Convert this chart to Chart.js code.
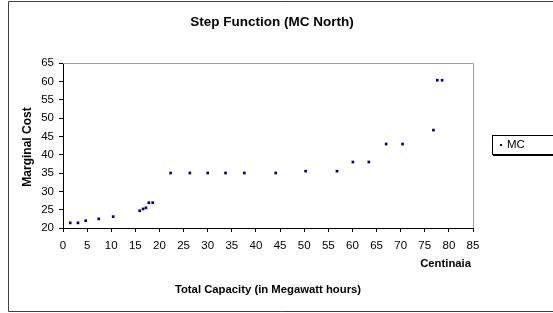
<!DOCTYPE html>
<html>
<head>
<meta charset="utf-8">
<script src="https://cdn.jsdelivr.net/npm/chart.js@4"></script>
<style>
  html, body { margin: 0; padding: 0; background: #fff; }
  #wrap { width: 553px; height: 313px; position: relative; }
</style>
</head>
<body>
<div id="wrap"><canvas id="chart"></canvas></div>
<script>
// Data
const capacity = [1.5, 3.1, 4.7, 7.4, 10.4, 15.9, 16.6, 17.2, 17.8, 18.6,
    22.3, 26.3, 30.0, 33.7, 37.6, 44.1, 50.3, 56.8, 60.1, 63.4,
    67.0, 70.4, 76.8, 77.6, 78.6];
const marginalCost = [21.4, 21.4, 22.0, 22.5, 23.1, 24.7, 25.2, 25.5, 26.9, 26.9,
    35.0, 35.0, 35.0, 35.0, 35.0, 35.0, 35.5, 35.5, 38.0, 38.0,
    42.9, 42.9, 46.7, 60.3, 60.3];
const seriesLabel = 'MC';
const chartTitle = 'Step Function (MC North)';
const yTitle = 'Marginal Cost';
const xTitle = 'Total Capacity (in Megawatt hours)';
const xUnit = 'Centinaia';

const FONT = '"Liberation Sans", Arial, sans-serif';
const pointColor = '#000080';

// draws the frame, titles and the boxed legend like the spreadsheet original
const decorations = {
    id: 'decorations',
    afterDraw(chart) {
        const ctx = chart.ctx;
        const a = chart.chartArea;
        ctx.save();

        // outer frame
        ctx.strokeStyle = '#404040';
        ctx.lineWidth = 1;
        ctx.beginPath();
        ctx.moveTo(560, 1.5);
        ctx.lineTo(8.5, 1.5);
        ctx.lineTo(8.5, 311.5);
        ctx.lineTo(560, 311.5);
        ctx.stroke();

        // plot area top/right border
        ctx.strokeStyle = '#a0a0a0';
        ctx.beginPath();
        ctx.moveTo(a.left, a.top + 0.5);
        ctx.lineTo(a.right + 0.5, a.top + 0.5);
        ctx.lineTo(a.right + 0.5, a.bottom);
        ctx.stroke();

        ctx.fillStyle = '#000';
        ctx.textBaseline = 'middle';

        ctx.font = 'bold 13.5px ' + FONT;
        ctx.textAlign = 'center';
        ctx.fillText(chartTitle, 272, 22);

        ctx.font = 'bold 11.3px ' + FONT;
        ctx.fillText(xTitle, 268, 290);
        ctx.textAlign = 'right';
        ctx.fillText(xUnit, 471, 264);

        ctx.save();
        ctx.translate(28, 147);
        ctx.rotate(-Math.PI / 2);
        ctx.textAlign = 'center';
        ctx.font = 'bold 12px ' + FONT;
        ctx.fillText(yTitle, 0, 0);
        ctx.restore();

        // legend box
        ctx.fillStyle = '#000';
        ctx.fillRect(493, 136, 70, 20);
        ctx.fillStyle = '#fff';
        ctx.fillRect(492, 135, 70, 19);
        ctx.strokeStyle = '#000';
        ctx.strokeRect(492.5, 135.5, 70, 19);
        ctx.fillStyle = pointColor;
        ctx.fillRect(500, 144, 2, 2);
        ctx.fillStyle = '#000';
        ctx.font = '11.5px ' + FONT;
        ctx.textAlign = 'left';
        ctx.fillText(chart.data.datasets[0].label, 507, 145);

        ctx.restore();
    }
};

new Chart(document.getElementById('chart'), {
    type: 'scatter',
    data: {
        datasets: [{
            label: seriesLabel,
            data: capacity.map((x, i) => ({ x: x, y: marginalCost[i] })),
            backgroundColor: pointColor,
            borderColor: pointColor,
            pointStyle: 'rect',
            pointRadius: 1.9,
            borderWidth: 0
        }]
    },
    options: {
        responsive: true,
        maintainAspectRatio: false,
        animation: false,
        layout: { padding: { left: 33, right: 80, top: 63, bottom: 55 } },
        plugins: {
            legend: { display: false },
            title: { display: false },
            tooltip: { enabled: false }
        },
        scales: {
            x: {
                type: 'linear',
                min: 0,
                max: 85,
                ticks: { stepSize: 5, color: '#000', font: { family: FONT, size: 11.5 }, padding: 7, maxRotation: 0, autoSkip: false },
                grid: { drawOnChartArea: false, tickLength: 4, color: '#000' },
                border: { color: '#000' },
                afterFit: s => { s.height = 30; }
            },
            y: {
                min: 20,
                max: 65,
                ticks: { stepSize: 5, color: '#000', font: { family: FONT, size: 11.5 }, padding: 5 },
                grid: { drawOnChartArea: false, tickLength: 4, color: '#000' },
                border: { color: '#000' },
                afterFit: s => { s.width = 30; }
            }
        }
    },
    plugins: [decorations]
});
</script>
</body>
</html>
